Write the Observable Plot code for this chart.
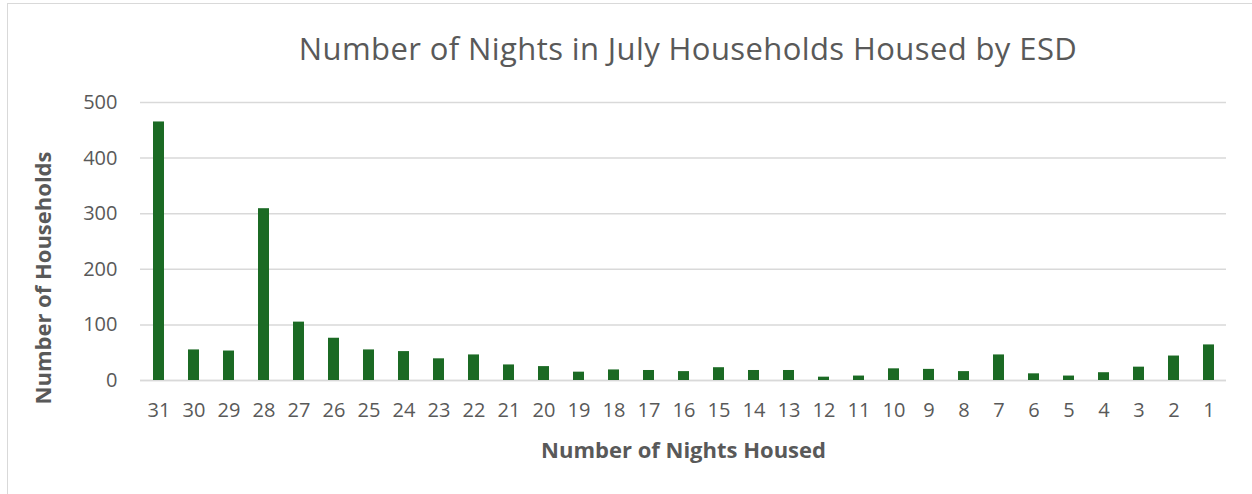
<!DOCTYPE html>
<html><head><meta charset="utf-8">
<script src="https://cdn.jsdelivr.net/npm/d3@7"></script>
<script src="https://cdn.jsdelivr.net/npm/@observablehq/plot@0.6"></script>
<style>
body{margin:0;background:#fff;font-family:"Open Sans",sans-serif;overflow:hidden;}
#frame{position:absolute;left:7px;top:3px;width:1270px;height:520px;border:1px solid #d9d9d9;box-sizing:border-box;}
#title{position:absolute;left:62px;top:29px;width:1252px;line-height:38px;font-size:31px;letter-spacing:0.4px;color:#595959;text-align:center;white-space:nowrap;}
#ytitle{position:absolute;left:42px;top:278px;transform:translate(-50%,-50%) rotate(-90deg);font-size:22px;font-weight:bold;color:#595959;white-space:nowrap;line-height:26px;}
#chart{position:absolute;left:0;top:80px;}
</style>
</head><body>
<div id="frame"></div>
<div id="title">Number of Nights in July Households Housed by ESD</div>
<div id="chart"></div>
<div id="ytitle"></div>
<script>
const nights = ["31","30","29","28","27","26","25","24","23","22","21","20","19","18","17","16","15","14","13","12","11","10","9","8","7","6","5","4","3","2","1"];
const households = [465,55,53,309,105,76,55,52,39,46,28,25,15,19,18,16,23,18,18,6,8,21,20,16,46,12,8,14,24,44,64];
const yTicks = [0,100,200,300,400,500];
const yTitle = "Number of Households";
const xTitle = "Number of Nights Housed";

document.getElementById("ytitle").textContent = yTitle;

const data = nights.map((n, i) => ({nights: n, households: households[i]}));

const chart = Plot.plot({
  width: 1252, height: 414,
  marginLeft: 140, marginRight: 26, marginTop: 22, marginBottom: 114,
  style: {fontFamily: "Open Sans", fontSize: "20px", color: "#595959", background: "transparent"},
  x: {domain: nights, paddingInner: 0.686, paddingOuter: 0.343, label: null},
  y: {domain: [0, 500], label: null},
  marks: [
    Plot.gridY(yTicks, {stroke: "#d9d9d9", strokeOpacity: 1, strokeWidth: 1.5}),
    Plot.ruleY([0], {stroke: "#d9d9d9", strokeWidth: 1.5}),
    Plot.barY(data, {x: "nights", y: "households", fill: "#1b6a24"}),
    Plot.axisY(yTicks, {tickSize: 0, tickPadding: 23, label: null}),
    Plot.axisX({tickSize: 0, tickPadding: 22, label: null}),
    Plot.text([xTitle], {text: d => d, frameAnchor: "bottom", dy: 77, fontWeight: "bold", fontSize: 22, fill: "#595959"})
  ]
});
document.getElementById("chart").append(chart);
</script>
</body></html>
